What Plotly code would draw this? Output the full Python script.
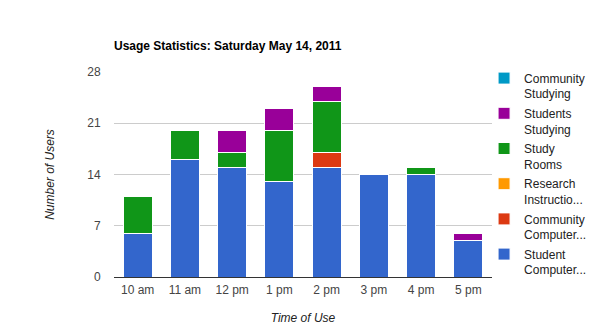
import plotly.graph_objects as go

# Hourly usage counts, stacked by user group
times = ["10 am", "11 am", "12 pm", "1 pm", "2 pm", "3 pm", "4 pm", "5 pm"]

student_computers = [6, 16, 15, 13, 15, 14, 14, 5]
community_computers = [0, 0, 0, 0, 2, 0, 0, 0]
research_instruction = [0, 0, 0, 0, 0, 0, 0, 0]
study_rooms = [5, 4, 2, 7, 7, 0, 1, 0]
students_studying = [0, 0, 3, 3, 2, 0, 0, 1]
community_studying = [0, 0, 0, 0, 0, 0, 0, 0]

series = [
    ("Student<br>Computer...", student_computers, "#3366cc"),
    ("Community<br>Computer...", community_computers, "#dc3912"),
    ("Research<br>Instructio...", research_instruction, "#ff9900"),
    ("Study<br>Rooms", study_rooms, "#109618"),
    ("Students<br>Studying", students_studying, "#990099"),
    ("Community<br>Studying", community_studying, "#0099c6"),
]

y_ticks = [0, 7, 14, 21, 28]

FONT = "Liberation Sans, Arial, sans-serif"

fig = go.Figure()
n = len(series)
for i, (name, vals, color) in enumerate(series):
    fig.add_trace(go.Bar(
        x=times, y=vals, name=name,
        legendgroup=f"g{i}",
        legendrank=n - i,  # top of the stack listed first
        marker=dict(color=color, line=dict(color="white", width=1)),
        hoverinfo="x+y+name",
    ))

fig.update_layout(
    width=590, height=332,
    margin=dict(l=114, r=98, t=72, b=55, autoexpand=False),
    barmode="stack",
    bargap=0.385,
    plot_bgcolor="white",
    paper_bgcolor="white",
    font=dict(family=FONT, size=12, color="#222222"),
    title=dict(
        text="<b>Usage Statistics: Saturday May 14, 2011</b>",
        x=114 / 590, xanchor="left", y=1 - 46 / 332, yanchor="middle",
        font=dict(family=FONT, size=12, color="#000000"),
    ),
    xaxis=dict(
        showgrid=False,
        showline=True, linecolor="#333333", linewidth=1,
        ticks="outside", ticklen=2, tickcolor="rgba(0,0,0,0)",
        tickfont=dict(color="#444444", size=12),
        title=dict(text="<i>Time of Use</i>", standoff=17,
                   font=dict(size=12, color="#222222")),
    ),
    yaxis=dict(
        range=[0, 28],
        tickvals=y_ticks,
        gridcolor="#cccccc", gridwidth=1,
        zeroline=True, zerolinecolor="#333333", zerolinewidth=1,
        ticks="outside", ticklen=10, tickcolor="rgba(0,0,0,0)",
        tickfont=dict(color="#444444", size=12),
        title=dict(text="<i>Number of Users</i>", standoff=30,
                   font=dict(size=12, color="#222222")),
    ),
    legend=dict(
        x=0.979, xanchor="left", y=1.04, yanchor="top",
        traceorder="grouped",
        valign="top",
        itemwidth=30,
        maxheight=320,
        bgcolor="rgba(0,0,0,0)",
        font=dict(size=12, color="#222222"),
        tracegroupgap=1,
    ),
)

fig.write_html("out.html")
